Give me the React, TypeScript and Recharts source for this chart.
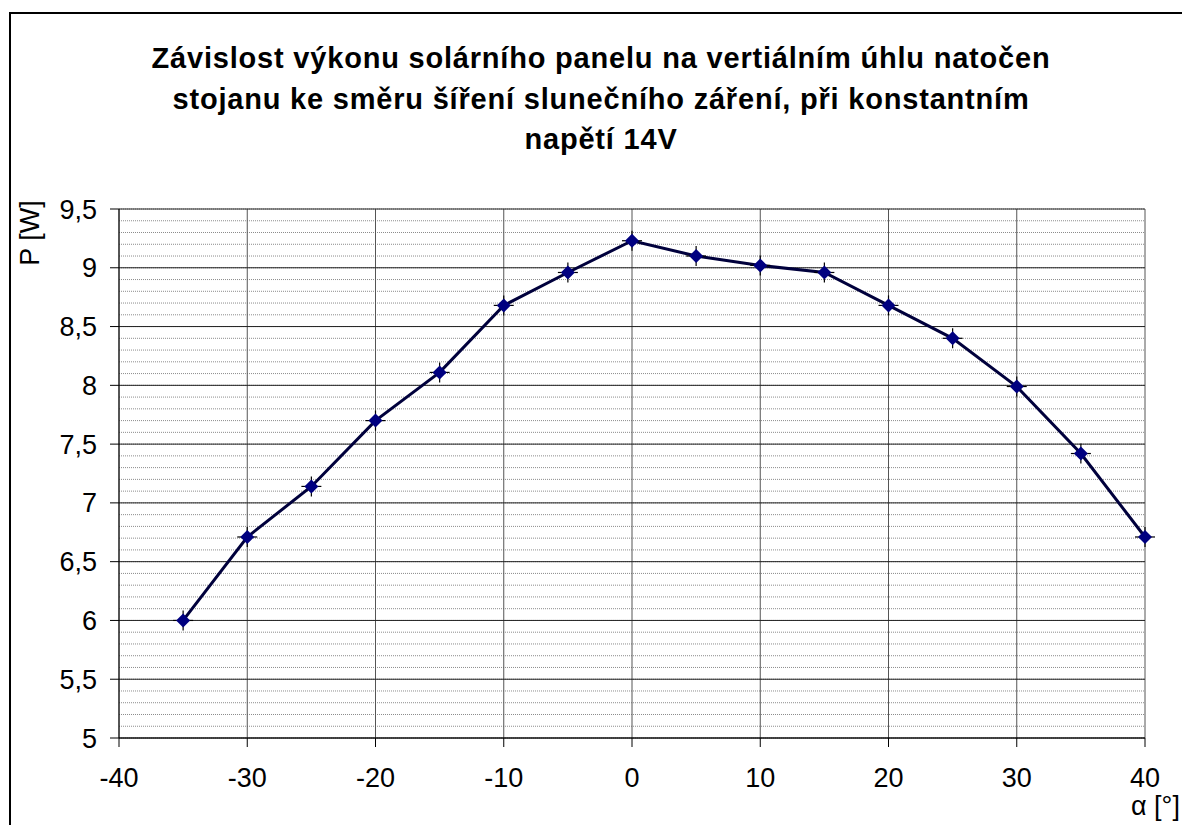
import React from "react";
import { LineChart, Line, XAxis, YAxis, CartesianGrid } from "recharts";

// úhel natočení stojanu [°]
const ANGLES = [-35, -30, -25, -20, -15, -10, -5, 0, 5, 10, 15, 20, 25, 30, 35, 40];
// výkon panelu [W]
const POWER = [6.0, 6.71, 7.14, 7.7, 8.11, 8.68, 8.96, 9.23, 9.1, 9.02, 8.96, 8.68, 8.4, 7.99, 7.42, 6.71];

const X_TICKS = [-40, -30, -20, -10, 0, 10, 20, 30, 40];
const Y_TICKS = [5, 5.5, 6, 6.5, 7, 7.5, 8, 8.5, 9, 9.5];
const Y_MINOR = Array.from({ length: 46 }, (_, i) => Math.round((5 + i * 0.1) * 10) / 10);

const TITLE = [
  "Závislost výkonu solárního panelu na vertiálním úhlu natočen",
  "stojanu ke směru šíření slunečního záření, při konstantním",
  "napětí 14V",
];

const data = ANGLES.map((a, i) => ({ angle: a, power: POWER[i] }));

const FONT = "'Liberation Sans', Arial, sans-serif";
const LABEL_SIZE = 27;

function Marker(props: any) {
  const { cx, cy } = props;
  if (cx == null || cy == null) return null;
  return (
    <g>
      <line x1={cx} y1={cy - 10} x2={cx} y2={cy + 10} stroke="#000" strokeWidth={1.2} />
      <line x1={cx - 10} y1={cy} x2={cx + 10} y2={cy} stroke="#000" strokeWidth={1.2} />
      <path d={`M${cx},${cy - 7} L${cx + 7},${cy} L${cx},${cy + 7} L${cx - 7},${cy} Z`} fill="#000080" />
    </g>
  );
}

function XTick(props: any) {
  const { x, y, payload } = props;
  return (
    <text x={x} y={y + 38} textAnchor="middle" style={{ fontSize: LABEL_SIZE, fontFamily: FONT }} fill="#000">
      {payload.value}
    </text>
  );
}

function YTick(props: any) {
  const { x, y, payload } = props;
  return (
    <text x={x} y={y + 9.5} textAnchor="end" style={{ fontSize: LABEL_SIZE, fontFamily: FONT }} fill="#000">
      {String(payload.value).replace(".", ",")}
    </text>
  );
}

export default function App() {
  return (
    <div style={{ position: "absolute", left: 0, top: 0, width: 1182, height: 825, background: "#fff", overflow: "hidden", fontFamily: FONT }}>
      {/* rámeček grafu */}
      <div style={{ position: "absolute", left: 9, top: 12, width: 1200, height: 900, borderLeft: "2px solid #000", borderTop: "2px solid #000" }} />

      <div style={{ position: "absolute", left: 10, top: 38, width: 1182, textAlign: "center", fontWeight: "bold", fontSize: 29, letterSpacing: 0.8, lineHeight: "40.5px", color: "#000", whiteSpace: "nowrap" }}>
        {TITLE.map((t) => (
          <div key={t}>{t}</div>
        ))}
      </div>

      <LineChart
        width={1182}
        height={825}
        data={data}
        margin={{ top: 209, right: 37, bottom: 27, left: 59 }}
        style={{ position: "absolute", left: 0, top: 0 }}
      >
        <CartesianGrid
          vertical={false}
          horizontalValues={Y_MINOR}
          stroke="#8c8c8c"
          strokeDasharray="1 1"
        />
        <CartesianGrid
          horizontal={false}
          verticalValues={X_TICKS}
          stroke="#555"
        />
        <CartesianGrid
          vertical={false}
          horizontalValues={Y_TICKS}
          stroke="#222"
        />
        <XAxis
          dataKey="angle"
          type="number"
          domain={[-40, 40]}
          ticks={X_TICKS}
          height={60}
          tickSize={9}
          tickMargin={2}
          stroke="#000"
          tick={<XTick />}
          interval={0}
        />
        <YAxis
          type="number"
          domain={[5, 9.5]}
          ticks={Y_TICKS}
          width={60}
          tickSize={9}
          tickMargin={13}
          stroke="#000"
          tick={<YTick />}
          interval={0}
        />
        <Line
          dataKey="power"
          stroke="#00003c"
          strokeWidth={3}
          dot={<Marker />}
          activeDot={false}
          isAnimationActive={false}
        />
      </LineChart>

      <div style={{ position: "absolute", left: 30, top: 233, fontSize: LABEL_SIZE, lineHeight: "28px", transform: "translate(-50%, -50%) rotate(-90deg)", whiteSpace: "nowrap" }}>
        P [W]
      </div>
      <div style={{ position: "absolute", left: 1131, top: 791, fontSize: LABEL_SIZE, lineHeight: "30px", whiteSpace: "nowrap" }}>
        α [°]
      </div>
    </div>
  );
}
